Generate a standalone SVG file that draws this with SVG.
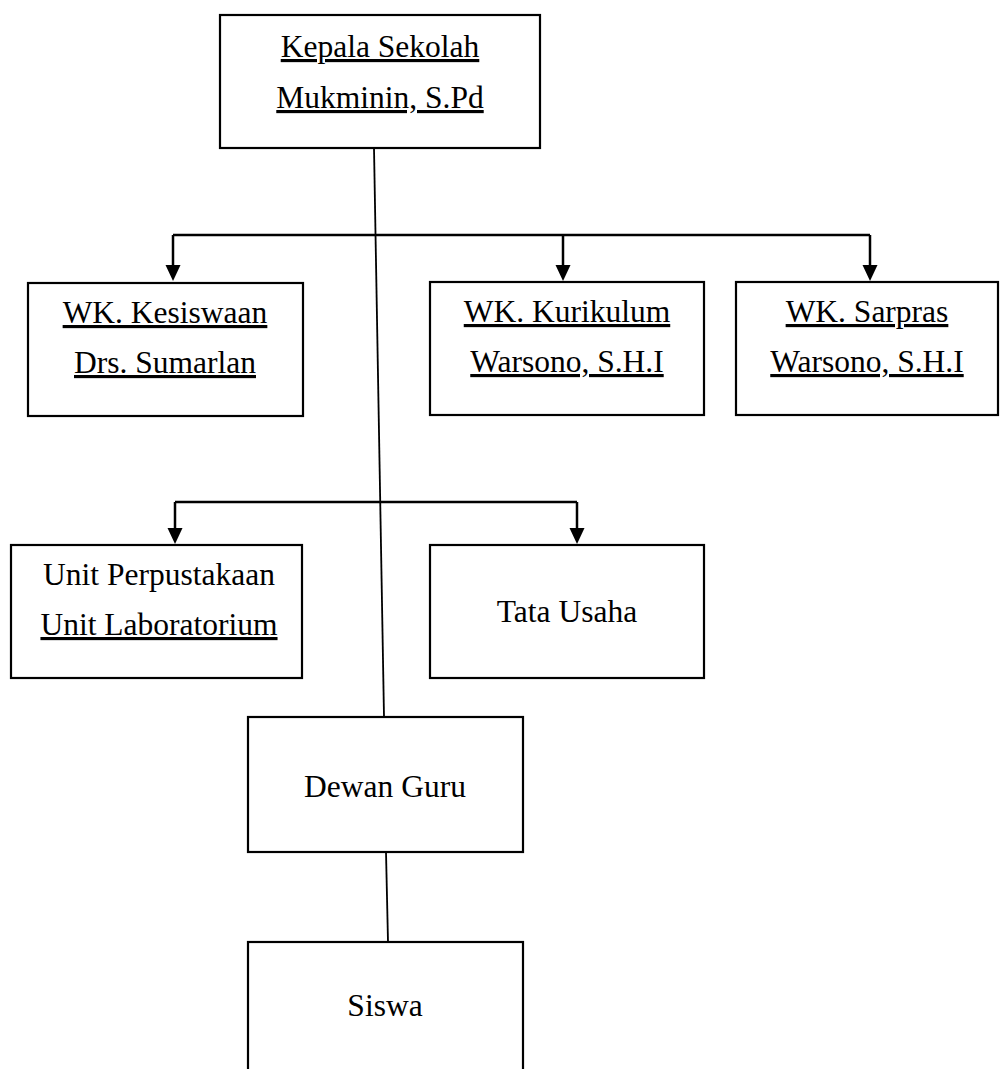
<svg xmlns="http://www.w3.org/2000/svg" width="1000" height="1069" viewBox="0 0 1000 1069">
<style>
.box{fill:#fff;stroke:#000;stroke-width:2.2}
.t{font-family:"Liberation Serif","Times New Roman",serif;font-size:31.5px;fill:#000;text-anchor:middle}
.u{text-decoration:underline}
.c{fill:none;stroke:#000;stroke-width:2.5}
.s{fill:none;stroke:#000;stroke-width:1.8}
.ah{fill:#000}
</style>
<g id="connectors">
<line class="s" x1="374" y1="148" x2="384" y2="717"/>
<path class="c" d="M173,235 H870"/>
<path class="c" d="M173,235 V266"/>
<path class="c" d="M563,235 V266"/>
<path class="c" d="M870,235 V266"/>
<polygon class="ah" points="165.5,265 180.5,265 173,281"/>
<polygon class="ah" points="555.5,265 570.5,265 563,281"/>
<polygon class="ah" points="862.5,265 877.5,265 870,281"/>
<path class="c" d="M175,502 H577"/>
<path class="c" d="M175,502 V529"/>
<path class="c" d="M577,502 V529"/>
<polygon class="ah" points="167.5,528 182.5,528 175,544"/>
<polygon class="ah" points="569.5,528 584.5,528 577,544"/>
<line class="s" x1="386" y1="852" x2="388" y2="942"/>
</g>
<g id="kepala">
<rect class="box" x="220" y="15" width="320" height="133"/>
<text class="t u" x="380" y="57">Kepala Sekolah</text>
<text class="t u" x="380" y="108">Mukminin, S.Pd</text>
</g>
<g id="kesiswaan">
<rect class="box" x="28" y="283" width="275" height="133"/>
<text class="t u" x="165" y="323">WK. Kesiswaan</text>
<text class="t u" x="165" y="373">Drs. Sumarlan</text>
</g>
<g id="kurikulum">
<rect class="box" x="430" y="282" width="274" height="133"/>
<text class="t u" x="567" y="322">WK. Kurikulum</text>
<text class="t u" x="567" y="372">Warsono, S.H.I</text>
</g>
<g id="sarpras">
<rect class="box" x="736" y="282" width="262" height="133"/>
<text class="t u" x="867" y="322">WK. Sarpras</text>
<text class="t u" x="867" y="372">Warsono, S.H.I</text>
</g>
<g id="unit">
<rect class="box" x="11" y="545" width="291" height="133"/>
<text class="t" x="159" y="585">Unit Perpustakaan</text>
<text class="t u" x="159" y="635">Unit Laboratorium</text>
</g>
<g id="tatausaha">
<rect class="box" x="430" y="545" width="274" height="133"/>
<text class="t" x="567" y="622">Tata Usaha</text>
</g>
<g id="dewanguru">
<rect class="box" x="248" y="717" width="275" height="135"/>
<text class="t" x="385" y="797">Dewan Guru</text>
</g>
<g id="siswa">
<rect class="box" x="248" y="942" width="275" height="140"/>
<text class="t" x="385" y="1016">Siswa</text>
</g>
</svg>
